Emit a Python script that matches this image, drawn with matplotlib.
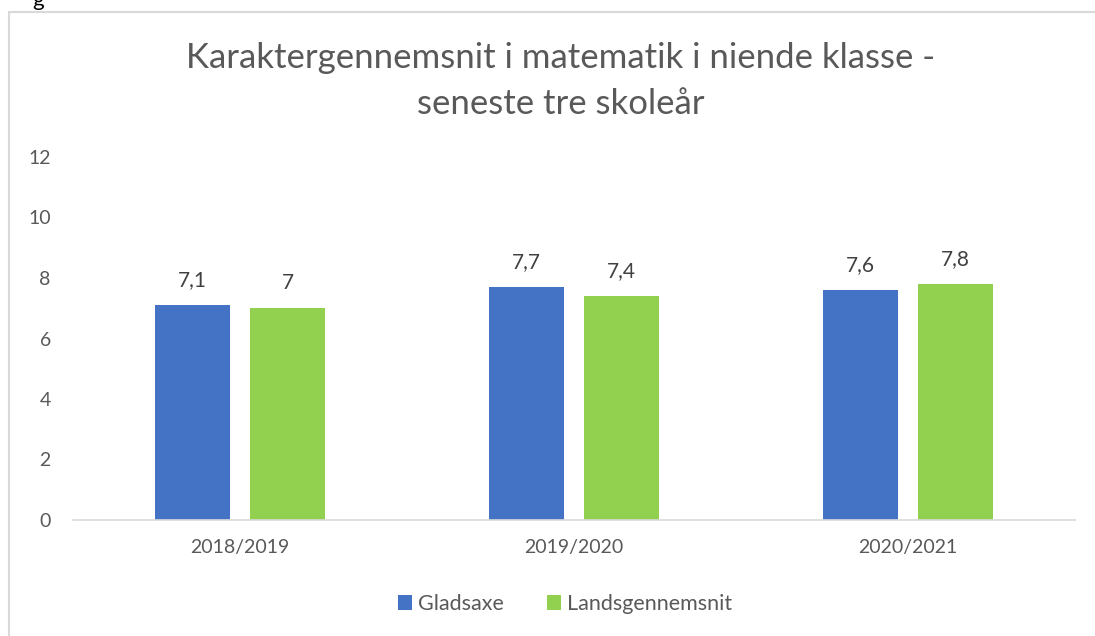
import matplotlib.pyplot as plt
import numpy as np
from matplotlib.patches import Rectangle

years = ["2018/2019", "2019/2020", "2020/2021"]
gladsaxe = [7.1, 7.7, 7.6]
lands = [7.0, 7.4, 7.8]
gladsaxe_lbl = ["7,1", "7,7", "7,6"]
lands_lbl = ["7", "7,4", "7,8"]

plt.rcParams['font.family'] = ['Lato', 'DejaVu Sans']
grey = '#595959'

fig = plt.figure(figsize=(10.95, 6.36), dpi=100)
ax = fig.add_axes([73 / 1095, 1 - 520 / 636, 1002 / 1095, 363 / 636])

x = np.arange(len(years))
w = 0.225
b1 = ax.bar(x - 0.143, gladsaxe, w, color='#4472C4', label='Gladsaxe')
b2 = ax.bar(x + 0.143, lands, w, color='#92D050', label='Landsgennemsnit')

for bars, lbls in ((b1, gladsaxe_lbl), (b2, lands_lbl)):
    for r, t in zip(bars, lbls):
        ax.annotate(t, (r.get_x() + r.get_width() / 2, r.get_height()),
                    xytext=(0, 11), textcoords='offset points',
                    ha='center', va='bottom', fontsize=15, color='#404040')

ax.set_xlim(-0.5, 2.5)
ax.set_ylim(0, 12)
ax.set_yticks(range(0, 13, 2))
ax.set_xticks(x)
ax.set_xticklabels(years)
for s in ['top', 'right', 'left']:
    ax.spines[s].set_visible(False)
ax.spines['bottom'].set_color('#d9d9d9')
ax.spines['bottom'].set_linewidth(1.2)
ax.tick_params(axis='both', length=0, labelsize=14, colors=grey)
ax.tick_params(axis='y', pad=16)
ax.tick_params(axis='x', pad=14)

fig.text(0.512, 1 - 58 / 636, "Karaktergennemsnit i matematik i niende klasse -",
         ha='center', va='center', fontsize=25, color=grey)
fig.text(0.512, 1 - 104 / 636, "seneste tre skoleår",
         ha='center', va='center', fontsize=25, color=grey)

fig.legend(loc='center', bbox_to_anchor=(0.516, 1 - 604 / 636), ncol=2,
           frameon=False, fontsize=15.5, labelcolor=grey,
           handlelength=0.65, handleheight=0.65, handletextpad=0.3, columnspacing=2.0)

# chart-area border (cropped screenshot)
fig.patches.append(Rectangle((9 / 1095, -0.05), 1.1, 1 - 12 / 636 + 0.05,
                             transform=fig.transFigure, fill=False,
                             edgecolor='#d9d9d9', linewidth=1.5))
fig.text(38 / 1095, 1.0, "g", ha='center', va='center', fontsize=16,
         color='black')

fig.savefig('out.png', dpi=100)
